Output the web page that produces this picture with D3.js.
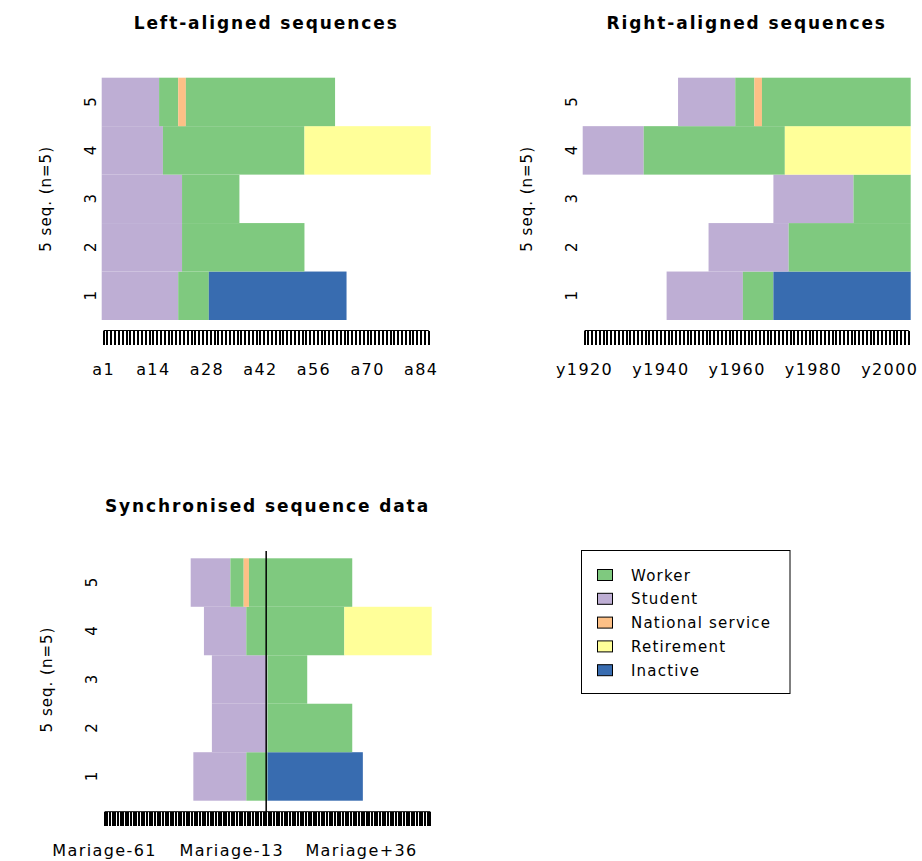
<!DOCTYPE html>
<html>
<head>
<meta charset="utf-8">
<script src="https://cdn.jsdelivr.net/npm/d3@7"></script>
<style>
  html, body { margin: 0; padding: 0; background: #fff; }
  svg { display: block; }
  text { font-family: "DejaVu Sans", Verdana, sans-serif; fill: #000; }
</style>
</head>
<body>
<svg id="chart" width="922" height="861"></svg>
<script>
// ---- data ----
const stateNames = ["Worker", "Student", "National service", "Retirement", "Inactive"];
const stateColors = ["#7FC97F", "#BEAED4", "#FDC086", "#FFFF99", "#386CB0"];

const seqIds = ["1", "2", "3", "4", "5"];
// spells (state, duration in columns) of each sequence, left-aligned
const seq1States = ["Student", "Worker", "Inactive"];
const seq1Lengths = [20, 8, 36];
const seq2States = ["Student", "Worker"];
const seq2Lengths = [21, 32];
const seq3States = ["Student", "Worker"];
const seq3Lengths = [21, 15];
const seq4States = ["Student", "Worker", "Retirement"];
const seq4Lengths = [16, 37, 33];
const seq5States = ["Student", "Worker", "National service", "Worker"];
const seq5Lengths = [15, 5, 2, 39];
// position (1-based) of the marriage within each sequence
const marriagePos = [28, 21, 21, 24, 29];

// columns of the three views
const nAge = 86;          // a1 .. a86
const firstYear = 1920;   // y1920 .. y2005
const nYear = 86;
const syncFrom = -61;     // Mariage-61 .. Mariage+62
const syncTo = 62;

const ageTickLabels = ["a1", "a14", "a28", "a42", "a56", "a70", "a84"];
const yearTickLabels = ["y1920", "y1940", "y1960", "y1980", "y2000"];
const syncTickLabels = ["Mariage-61", "Mariage-13", "Mariage+36"];

// ---- build ----
const spellStates = [seq1States, seq2States, seq3States, seq4States, seq5States];
const spellLengths = [seq1Lengths, seq2Lengths, seq3Lengths, seq4Lengths, seq5Lengths];
const color = d3.scaleOrdinal().domain(stateNames).range(stateColors);

const ageCols = d3.range(1, nAge + 1).map(i => "a" + i);
const yearCols = d3.range(firstYear, firstYear + nYear).map(y => "y" + y);
const syncCols = d3.range(syncFrom, syncTo + 1).map(k => "Mariage" + (k > 0 ? "+" + k : k === 0 ? "0" : k));

function spellsFor(mode) {
  const out = [];
  seqIds.forEach((id, i) => {
    const total = d3.sum(spellLengths[i]);
    let start;
    if (mode === "left") start = 0;
    else if (mode === "right") start = nYear - total;
    else start = (1 - marriagePos[i]) - syncFrom;
    let pos = start;
    spellStates[i].forEach((s, j) => {
      out.push({ id, state: s, start: pos, len: spellLengths[i][j] });
      pos += spellLengths[i][j];
    });
  });
  return out;
}

const svg = d3.select("#chart");

function panel(cfg) {
  const x = d3.scaleBand().domain(cfg.cols).range([cfg.x0, cfg.x1]).padding(0);
  const y = d3.scaleBand().domain(seqIds.slice().reverse()).range([cfg.y0, cfg.y1]).padding(0);
  const g = svg.append("g");
  const bw = x.bandwidth();

  g.selectAll("rect.spell").data(spellsFor(cfg.mode)).join("rect")
    .attr("class", "spell")
    .attr("x", d => x(cfg.cols[d.start]))
    .attr("width", d => d.len * bw)
    .attr("y", d => y(d.id))
    .attr("height", y.bandwidth())
    .attr("fill", d => color(d.state));

  // title
  g.append("text")
    .attr("x", (cfg.x0 + cfg.x1) / 2).attr("y", cfg.titleY)
    .attr("text-anchor", "middle")
    .style("font-weight", "bold").style("font-size", "17px").style("letter-spacing", "1.9px")
    .text(cfg.title);

  // x axis comb
  const tickX = c => x(c) + bw / 2;
  const axY = cfg.y1 + cfg.axGap;
  g.append("line")
    .attr("x1", tickX(cfg.cols[0])).attr("x2", tickX(cfg.cols[cfg.cols.length - 1]))
    .attr("y1", axY).attr("y2", axY).attr("stroke", "#000").attr("stroke-width", 1);
  g.selectAll("line.tick").data(cfg.cols).join("line")
    .attr("class", "tick")
    .attr("x1", tickX).attr("x2", tickX)
    .attr("y1", axY).attr("y2", axY + 14)
    .attr("stroke", "#000").attr("stroke-width", cfg.tickW)
    .attr("shape-rendering", cfg.crisp ? "crispEdges" : "auto");
  g.selectAll("text.xl").data(cfg.labels).join("text")
    .attr("class", "xl")
    .attr("x", tickX).attr("y", axY + 44)
    .attr("text-anchor", "middle")
    .style("font-size", "16px").style("letter-spacing", "1.4px")
    .text(d => d);

  // y axis labels
  g.selectAll("text.yl").data(seqIds).join("text")
    .attr("class", "yl")
    .attr("transform", d => `translate(${cfg.x0 - 6},${y(d) + y.bandwidth() / 2}) rotate(-90)`)
    .attr("text-anchor", "middle")
    .style("font-size", "15px")
    .text(d => d);
  g.append("text")
    .attr("transform", `translate(${cfg.x0 - 51},${(cfg.y0 + cfg.y1) / 2}) rotate(-90)`)
    .attr("text-anchor", "middle")
    .style("font-size", "15px").style("letter-spacing", "1px")
    .text("5 seq. (n=5)");

  return { g, x, y };
}

panel({ mode: "left", cols: ageCols, labels: ageTickLabels, x0: 101.7, x1: 430.7, y0: 77.7, y1: 320,
        axGap: 10.5, tickW: 2, crisp: true, title: "Left-aligned sequences", titleY: 29 });
panel({ mode: "right", cols: yearCols, labels: yearTickLabels, x0: 582.7, x1: 910.7, y0: 77.7, y1: 320,
        axGap: 10.5, tickW: 2, crisp: true, title: "Right-aligned sequences", titleY: 29 });
const p3 = panel({ mode: "sync", cols: syncCols, labels: syncTickLabels, x0: 103.3, x1: 431.7, y0: 558.3, y1: 800.7,
        axGap: 11, tickW: 2, crisp: true, title: "Synchronised sequence data", titleY: 512 });

// marriage line
const mx = p3.x("Mariage0") + p3.x.bandwidth() / 2;
p3.g.append("line").attr("x1", mx).attr("x2", mx).attr("y1", 551).attr("y2", 812)
  .attr("stroke", "#000").attr("stroke-width", 1.5);

// legend
const lg = svg.append("g");
lg.append("rect").attr("x", 581.5).attr("y", 550.5).attr("width", 208.5).attr("height", 143)
  .attr("fill", "#fff").attr("stroke", "#000").attr("stroke-width", 1);
stateNames.forEach((s, i) => {
  const cy = 575 + i * 23.8;
  lg.append("rect").attr("x", 597.5).attr("y", cy - 5.5).attr("width", 15).attr("height", 11)
    .attr("fill", color(s)).attr("stroke", "#000").attr("stroke-width", 1);
  lg.append("text").attr("x", 631).attr("y", cy + 5.5)
    .style("font-size", "15px").style("letter-spacing", "1.2px")
    .text(s);
});
</script>
</body>
</html>
